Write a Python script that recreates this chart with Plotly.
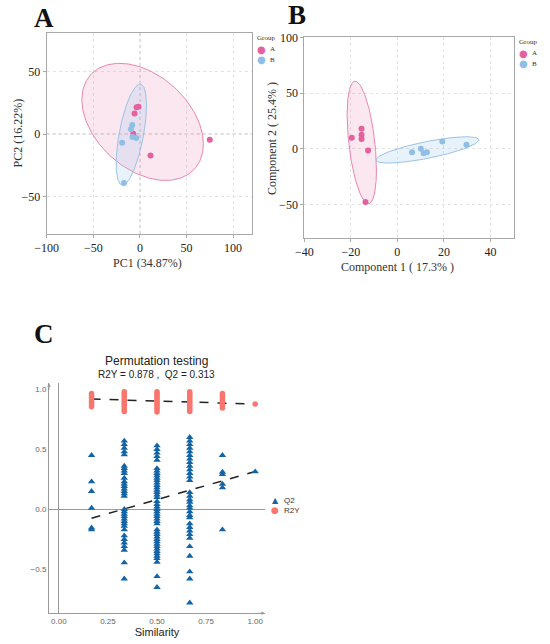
import numpy as np
import plotly.graph_objects as go

# ---------------- data ----------------
# Panel A : PCA scores
pca_grpA_x = [-3.5, -1.5, -5.7, -7.1, 11.4, 75.0]
pca_grpA_y = [21.5, 22.0, 16.5, 0.2, -17.1, -4.6]
pca_grpB_x = [-8.2, -9.6, -7.9, -3.9, -19.0, -17.1]
pca_grpB_y = [7.4, 4.0, -2.4, -3.2, -7.0, -39.2]
# confidence ellipses: centre x, centre y, half x-extent, half y-extent, correlation
pca_ellipse_A = [2.9, 9.8, 65.2, 46.9, -0.38]
pca_ellipse_B = [-9.2, -0.4, 16.3, 40.4, 0.58]

# Panel B : PLS-DA scores
pls_grpA_x = [-19.6, -15.4, -15.4, -15.4, -12.6, -13.7]
pls_grpA_y = [9.9, 17.9, 12.5, 8.7, -1.5, -47.8]
pls_grpB_x = [6.3, 10.1, 11.3, 12.7, 19.3, 29.7]
pls_grpB_y = [-3.0, 0.0, -3.9, -3.0, 6.6, 3.6]
pls_ellipse_A = [-15.3, 5.7, 6.3, 54.9, -0.45]
pls_ellipse_B = [12.9, -1.0, 22.1, 11.8, 0.76]

group_names = ["A", "B"]

# Panel C : permutation test
sim_levels = [1/6, 2/6, 3/6, 4/6, 5/6, 1.0]
q2_s1 = [0.45, 0.23, 0.15, 0.01, -0.155, -0.17]
q2_s2 = [0.57, 0.54, 0.51, 0.48, 0.455, 0.36, 0.34, 0.32, 0.30, 0.26, 0.23, 0.21,
         0.19, 0.17, 0.15, 0.13, 0.11, 0.0, -0.02, -0.04, -0.06, -0.08, -0.10,
         -0.12, -0.14, -0.17, -0.22, -0.25, -0.28, -0.31, -0.34, -0.445, -0.58]
q2_s3 = [0.53, 0.50, 0.47, 0.44, 0.41, 0.34, 0.32, 0.30, 0.28, 0.26, 0.24, 0.22,
         0.20, 0.18, 0.16, 0.14, 0.12, 0.10, 0.065, 0.04, 0.02, 0.0, -0.02, -0.04,
         -0.06, -0.08, -0.10, -0.12, -0.17, -0.19, -0.21, -0.23, -0.25, -0.27,
         -0.29, -0.31, -0.33, -0.35, -0.37, -0.39, -0.41, -0.44, -0.56, -0.65]
q2_s4 = [0.60, 0.57, 0.54, 0.51, 0.48, 0.45, 0.42, 0.39, 0.36, 0.33, 0.30, 0.27,
         0.24, 0.14, 0.11, 0.08, 0.06, 0.03, 0.01, -0.02, -0.05, -0.07, -0.12,
         -0.15, -0.18, -0.21, -0.24, -0.31, -0.39, -0.52, -0.58, -0.78]
q2_s5 = [0.45, 0.31, 0.29, 0.21, 0.18, -0.17]
q2_s6 = [0.313]
r2y_s1 = [0.965, 0.95, 0.935, 0.925, 0.90, 0.885, 0.87, 0.855]
r2y_s2 = [0.98, 0.965, 0.95, 0.935, 0.92, 0.905, 0.89, 0.875, 0.86, 0.845, 0.83, 0.815]
r2y_s3 = [0.98, 0.965, 0.95, 0.935, 0.92, 0.905, 0.89, 0.875, 0.86, 0.845, 0.83, 0.81]
r2y_s4 = [0.98, 0.965, 0.95, 0.935, 0.92, 0.905, 0.89, 0.875, 0.86, 0.845, 0.83, 0.815]
r2y_s5 = [0.965, 0.95, 0.935, 0.92, 0.905, 0.89, 0.875, 0.86, 0.845]
r2y_s6 = [0.878]
fit_x = [1/6, 1.0]
r2y_fit_y = [0.919, 0.877]
q2_fit_y = [-0.075, 0.315]

# ---------------- styles ----------------
PINK = "#e4619d"
PINK_LINE = "#ea86b2"
PINK_FILL = "rgba(233,120,170,0.18)"
BLUE = "#8fbfe7"
BLUE_LINE = "#9cc2e6"
BLUE_FILL = "rgba(150,195,235,0.22)"
Q2C = "#1464a5"
R2C = "#f8766d"
SERIF = "Liberation Serif"
SANS = "Liberation Sans"
SYM = "DejaVu Sans"
W, H = 550, 644


def ellipse(p, n=200):
    cx, cy, sx, sy, rho = p
    t = np.linspace(0, 2 * np.pi, n)
    x = cx + sx * np.cos(t)
    y = cy + sy * (rho * np.cos(t) + np.sqrt(1 - rho ** 2) * np.sin(t))
    return x, y


fig = go.Figure()


def add_ell(p, xa, ya, line, fill):
    ex, ey = ellipse(p)
    fig.add_trace(go.Scatter(x=ex, y=ey, mode="lines", fill="toself", fillcolor=fill,
                             line=dict(color=line, width=1), xaxis=xa, yaxis=ya,
                             showlegend=False, hoverinfo="skip"))


# Panel A
add_ell(pca_ellipse_A, "x", "y", PINK_LINE, PINK_FILL)
add_ell(pca_ellipse_B, "x", "y", BLUE_LINE, BLUE_FILL)
fig.add_trace(go.Scatter(x=pca_grpA_x, y=pca_grpA_y, mode="markers", name=group_names[0],
                         marker=dict(color=PINK, size=6), xaxis="x", yaxis="y", showlegend=False))
fig.add_trace(go.Scatter(x=pca_grpB_x, y=pca_grpB_y, mode="markers", name=group_names[1],
                         marker=dict(color=BLUE, size=6), xaxis="x", yaxis="y", showlegend=False))
# Panel B
add_ell(pls_ellipse_A, "x2", "y2", PINK_LINE, PINK_FILL)
add_ell(pls_ellipse_B, "x2", "y2", BLUE_LINE, BLUE_FILL)
fig.add_trace(go.Scatter(x=pls_grpA_x, y=pls_grpA_y, mode="markers", name=group_names[0],
                         marker=dict(color=PINK, size=6), xaxis="x2", yaxis="y2", showlegend=False))
fig.add_trace(go.Scatter(x=pls_grpB_x, y=pls_grpB_y, mode="markers", name=group_names[1],
                         marker=dict(color=BLUE, size=6), xaxis="x2", yaxis="y2", showlegend=False))

# Panel C
q2_groups = [q2_s1, q2_s2, q2_s3, q2_s4, q2_s5, q2_s6]
r2_groups = [r2y_s1, r2y_s2, r2y_s3, r2y_s4, r2y_s5, r2y_s6]
q2x, q2y, r2x, r2y = [], [], [], []
for s, g in zip(sim_levels, q2_groups):
    q2x += [s] * len(g); q2y += g
for s, g in zip(sim_levels, r2_groups):
    r2x += [s] * len(g); r2y += g

fig.add_trace(go.Scatter(x=fit_x, y=r2y_fit_y, mode="lines", line=dict(color="#222", width=1.5, dash="dash"),
                         xaxis="x3", yaxis="y3", showlegend=False))
fig.add_trace(go.Scatter(x=fit_x, y=q2_fit_y, mode="lines", line=dict(color="#222", width=1.5, dash="dash"),
                         xaxis="x3", yaxis="y3", showlegend=False))
fig.add_trace(go.Scatter(x=q2x, y=q2y, mode="markers", name="Q2",
                         marker=dict(color=Q2C, size=6.5, symbol="triangle-up"),
                         xaxis="x3", yaxis="y3", showlegend=False))
fig.add_trace(go.Scatter(x=r2x, y=r2y, mode="markers", name="R2Y",
                         marker=dict(color=R2C, size=5.5, symbol="circle"),
                         xaxis="x3", yaxis="y3", showlegend=False))


def dom_x(a, b):
    return [a / W, b / W]


def dom_y(top, bot):
    return [1 - bot / H, 1 - top / H]


box_axis = dict(showline=True, mirror=True, linecolor="#a8a8a8", linewidth=1,
                showgrid=True, gridcolor="#e4e4e4", griddash="dot", gridwidth=1,
                zeroline=False, ticks="outside", ticklen=3, tickcolor="#a8a8a8",
                automargin=False,
                tickfont=dict(family=SERIF, size=12, color="#222"))

fig.update_layout(
    width=W, height=H, margin=dict(l=0, r=0, t=0, b=0, autoexpand=False),
    paper_bgcolor="white", plot_bgcolor="white", showlegend=False,
    xaxis=dict(domain=dom_x(46.7, 251.7), range=[-100, 120], tickvals=[-100, -50, 0, 50, 100],
               anchor="y", **box_axis),
    yaxis=dict(domain=dom_y(33, 234), range=[-80, 81], tickvals=[-50, 0, 50], anchor="x", **box_axis),
    xaxis2=dict(domain=dom_x(304.3, 513.7), range=[-40, 50], tickvals=[-40, -20, 0, 20, 40],
                anchor="y2", **box_axis),
    yaxis2=dict(domain=dom_y(37.3, 238), range=[-80, 100], tickvals=[-50, 0, 50, 100], anchor="x2", **box_axis),
    xaxis3=dict(domain=dom_x(49, 265), range=[-0.05, 1.05], tickvals=[0, 0.25, 0.5, 0.75, 1.0],
                tickformat=".2f", anchor="y3", showline=True, linecolor="#9a9a9a", linewidth=1,
                showgrid=False, zeroline=True, zerolinecolor="#9a9a9a", zerolinewidth=1,
                ticks="", automargin=False, tickfont=dict(family=SANS, size=8, color="#666"),
                title=dict(text="Similarity", font=dict(family=SANS, size=11, color="#222"), standoff=2)),
    yaxis3=dict(domain=dom_y(383.3, 613.3), range=[-0.867, 1.05], tickvals=[-0.5, 0, 0.5, 1.0],
                tickformat=".1f", anchor="x3", showline=True, linecolor="#9a9a9a", linewidth=1,
                showgrid=False, zeroline=True, zerolinecolor="#9a9a9a", zerolinewidth=1,
                ticks="", automargin=False, tickfont=dict(family=SANS, size=8, color="#666")),
)

# zero reference lines (dotted) in panel A
fig.add_shape(type="line", xref="x", yref="y domain", x0=0, x1=0, y0=0, y1=1,
              line=dict(color="#a0a0a0", width=1, dash="dot"), layer="below")
fig.add_shape(type="line", xref="x domain", yref="y", x0=0, x1=1, y0=0, y1=0,
              line=dict(color="#a0a0a0", width=1, dash="dot"), layer="below")

ann = []


def txt(text, x, y, size, family, color="#333", xanchor="center", angle=0, bold=False, pad=1):
    f = dict(family=family, size=size, color=color)
    if bold:
        f["weight"] = "bold"
    ann.append(dict(text=text, x=x / W, y=1 - y / H, xref="paper", yref="paper", showarrow=False,
                    xanchor=xanchor, yanchor="middle", textangle=angle, font=f, borderpad=pad))


# panel letters
for letter, cx, cy in [("A", 44, 18), ("B", 297, 15.5), ("C", 44, 334)]:
    txt(letter, cx, cy, 27, SERIF, "#111", bold=True, pad=0)
# axis titles for A and B
txt("PC1 (34.87%)", 147, 263, 12, SERIF)
txt("PC2 (16.22%)", 17.5, 133, 12, SERIF, angle=-90)
txt("Component 1 ( 17.3% )", 397, 267, 12, SERIF)
txt("Component 2 ( 25.4% )", 272, 139, 12, SERIF, angle=-90)
# C titles
txt("Permutation testing", 156.7, 361, 12, SANS, "#222")
txt("R2Y = 0.878 ,  Q2 = 0.313", 156.7, 374.5, 10, SANS, "#222")

# legends (A and B)
for lx, ly in [(255, 38), (517, 42)]:
    txt("Group", lx, ly, 7, SERIF, xanchor="left")
    for i, (nm, col) in enumerate(zip(group_names, [PINK, BLUE])):
        yy = ly + 11 + 11 * i
        txt("●", lx + 6, yy, 10, SYM, col)
        txt(nm, lx + 13, yy, 7, SERIF, xanchor="left")
# legend C
txt("▲", 275, 500, 8, SYM, Q2C)
txt("Q2", 282, 500, 8, SANS, xanchor="left")
txt("●", 275, 510, 9, SYM, R2C)
txt("R2Y", 282, 510, 8, SANS, xanchor="left")

# axis arrows in C
ann.append(dict(text="", x=-0.05, y=1.05, xref="x3", yref="y3", ax=0, ay=8, axref="pixel", ayref="pixel",
                showarrow=True, arrowhead=2, arrowsize=0.7, arrowwidth=1, arrowcolor="#9a9a9a"))
ann.append(dict(text="", x=1.05, y=-0.867, xref="x3", yref="y3", ax=-8, ay=0, axref="pixel", ayref="pixel",
                showarrow=True, arrowhead=2, arrowsize=0.7, arrowwidth=1, arrowcolor="#9a9a9a"))
fig.update_layout(annotations=ann)

fig.write_html("out.html", config={"displayModeBar": False},
               post_script="document.body.style.margin='0';document.body.style.overflow='hidden';")
